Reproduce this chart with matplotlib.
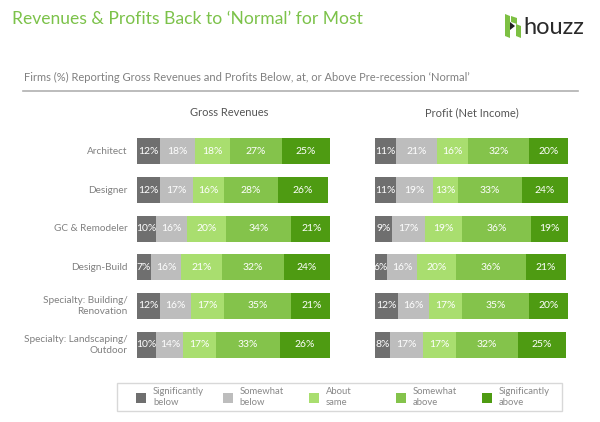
import matplotlib
matplotlib.use("agg")
from matplotlib import pyplot as plt
from matplotlib.patches import Polygon, Rectangle
from matplotlib.lines import Line2D

plt.rcParams["font.family"] = ["Lato", "DejaVu Sans"]

# data
firmTypes = ["Architect", "Designer", "GC & Remodeler", "Design-Build",
             "Specialty: Building/\nRenovation", "Specialty: Landscaping/\nOutdoor"]
responses = ["Significantly\nbelow", "Somewhat\nbelow", "About\nsame", "Somewhat\nabove", "Significantly\nabove"]
revenues = [[12, 18, 18, 27, 25],
            [12, 17, 16, 28, 26],
            [10, 16, 20, 34, 21],
            [7, 16, 21, 32, 24],
            [12, 16, 17, 35, 21],
            [10, 14, 17, 33, 26]]
profits = [[11, 21, 16, 32, 20],
           [11, 19, 13, 33, 24],
           [9, 17, 19, 36, 19],
           [6, 16, 20, 36, 21],
           [12, 16, 17, 35, 20],
           [8, 17, 17, 32, 25]]
colours = ["#6f6f6f", "#bdbdbd", "#a9de6f", "#84c34b", "#4e9b12"]

W, H = 600, 422
fig = plt.figure(figsize=(6, 4.22), dpi=100)

def fx(px):
    return px / W

def fy(py):
    return 1 - py / H

# header
fig.text(fx(12), fy(19), "Revenues & Profits Back to \u2018Normal\u2019 for Most", color="#7cc24a",
         fontsize=12.6, va="center", ha="left")
fig.text(fx(24), fy(77), "Firms (%) Reporting Gross Revenues and Profits Below, at, or Above Pre-recession \u2018Normal\u2019",
         color="#808080", fontsize=8, va="center", ha="left")
fig.add_artist(Line2D([fx(23), fx(578)], [fy(91), fy(91)], color="#b0b0b0", lw=1.2))

# houzz logo
logoGreen = "#7dc043"
icon = [[(505, 14), (510, 16), (510, 38), (505, 36)],
        [(511, 16), (517, 18), (517, 24), (511, 22)],
        [(516, 24), (521, 26), (521, 38), (516, 36)],
        [(505, 26), (510, 24), (510, 36), (505, 36)]]
for poly in icon:
    fig.add_artist(Polygon([(fx(x), fy(y)) for x, y in poly], closed=True, transform=fig.transFigure,
                           facecolor=logoGreen, edgecolor="none"))
fig.add_artist(Polygon([(fx(510), fy(22)), (fx(515), fy(26)), (fx(510), fy(30))], closed=True,
                       transform=fig.transFigure, facecolor="#222222", edgecolor="none"))
fig.text(fx(523), fy(27), "houzz", color="#2a2a2a", fontsize=17, va="center", ha="left")

# bar panels
axTop, axBottom = 132, 364
panels = [("Gross Revenues", revenues, 137, 330), ("Profit (Net Income)", profits, 375, 568)]
for panelIndex, (panelTitle, values, left, right) in enumerate(panels):
    ax = fig.add_axes([fx(left), fy(axBottom), (right - left) / W, (axBottom - axTop) / H])
    rows = list(range(len(firmTypes)))
    starts = [0] * len(firmTypes)
    for k in range(len(responses)):
        widths = [row[k] for row in values]
        ax.barh(rows, widths, left=starts, height=0.67, color=colours[k], edgecolor="none",
                label=responses[k])
        for r, w in enumerate(widths):
            ax.text(starts[r] + w / 2, r, f"{w}%", color="white", fontsize=7.5, ha="center", va="center")
        starts = [s + w for s, w in zip(starts, widths)]
    ax.set_xlim(0, 100)
    ax.set_ylim(len(firmTypes) - 0.5, -0.5)
    ax.axis("off")
    fig.text(fx((left + right) / 2 - 4 * (panelIndex == 0)), fy(113), panelTitle, color="#555555",
             fontsize=8, ha="center", va="center")
    if panelIndex == 0:
        for r, name in enumerate(firmTypes):
            ax.text(-5, r, name, color="#808080", fontsize=7.2, ha="right", va="center",
                    linespacing=1.3)

# legend box
fig.add_artist(Rectangle((fx(117), fy(411)), (562 - 117) / W, (411 - 383) / H, transform=fig.transFigure,
                         facecolor="white", edgecolor="#d8d8d8", lw=1))
for k, label in enumerate(responses):
    x0 = 136 + 86.5 * k
    fig.add_artist(Rectangle((fx(x0), fy(403)), 10 / W, 10 / H, transform=fig.transFigure,
                             facecolor=colours[k], edgecolor="none"))
    fig.text(fx(x0 + 17), fy(397), label, color="#888888", fontsize=6.8, ha="left", va="center",
             linespacing=1.2)

fig.savefig("out.png", dpi=100)
